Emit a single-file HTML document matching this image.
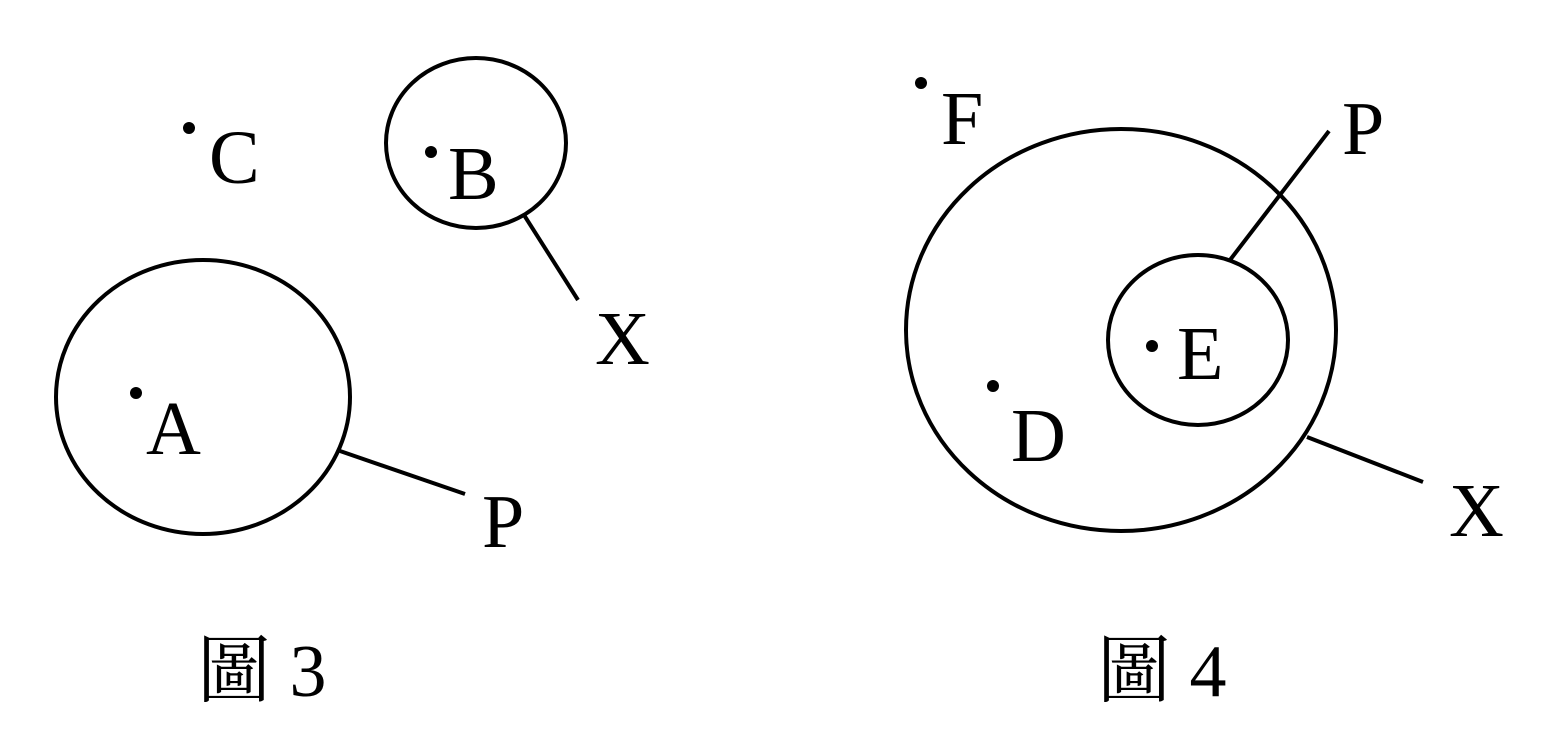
<!DOCTYPE html>
<html><head><meta charset="utf-8"><style>html,body{margin:0;padding:0;background:#fff}</style></head>
<body>
<svg width="1564" height="747" xmlns="http://www.w3.org/2000/svg" style="display:block">
<g fill="none" stroke="#000" stroke-width="4">
<ellipse cx="203" cy="397" rx="147" ry="137"/>
<ellipse cx="476" cy="143" rx="90" ry="85"/>
<ellipse cx="1121" cy="330" rx="215" ry="201"/>
<ellipse cx="1198" cy="340" rx="90" ry="85"/>
<line x1="340" y1="451" x2="465" y2="494"/>
<line x1="524" y1="215" x2="578" y2="300"/>
<line x1="1230" y1="260" x2="1329" y2="131"/>
<line x1="1307" y1="437" x2="1423" y2="482"/>
</g>
<g fill="#000">
<circle cx="189" cy="128" r="6"/>
<circle cx="431" cy="152" r="6"/>
<circle cx="136" cy="393" r="6"/>
<circle cx="921" cy="83" r="6"/>
<circle cx="1152" cy="346" r="6"/>
<circle cx="993" cy="386" r="6"/>
</g>
<g font-family="'Liberation Serif','Noto Serif CJK SC',serif" font-size="76" fill="#000">
<text x="209" y="183">C</text>
<text x="448" y="199">B</text>
<text x="146" y="454">A</text>
<text x="595" y="364">X</text>
<text x="482" y="547">P</text>
<text x="941" y="144">F</text>
<text x="1342" y="154">P</text>
<text x="1177" y="379">E</text>
<text x="1011" y="461">D</text>
<text x="1449" y="536">X</text>
<text x="197" y="696" font-size="74">圖 3</text>
<text x="1097" y="696" font-size="74">圖 4</text>
</g>
</svg>
</body></html>
